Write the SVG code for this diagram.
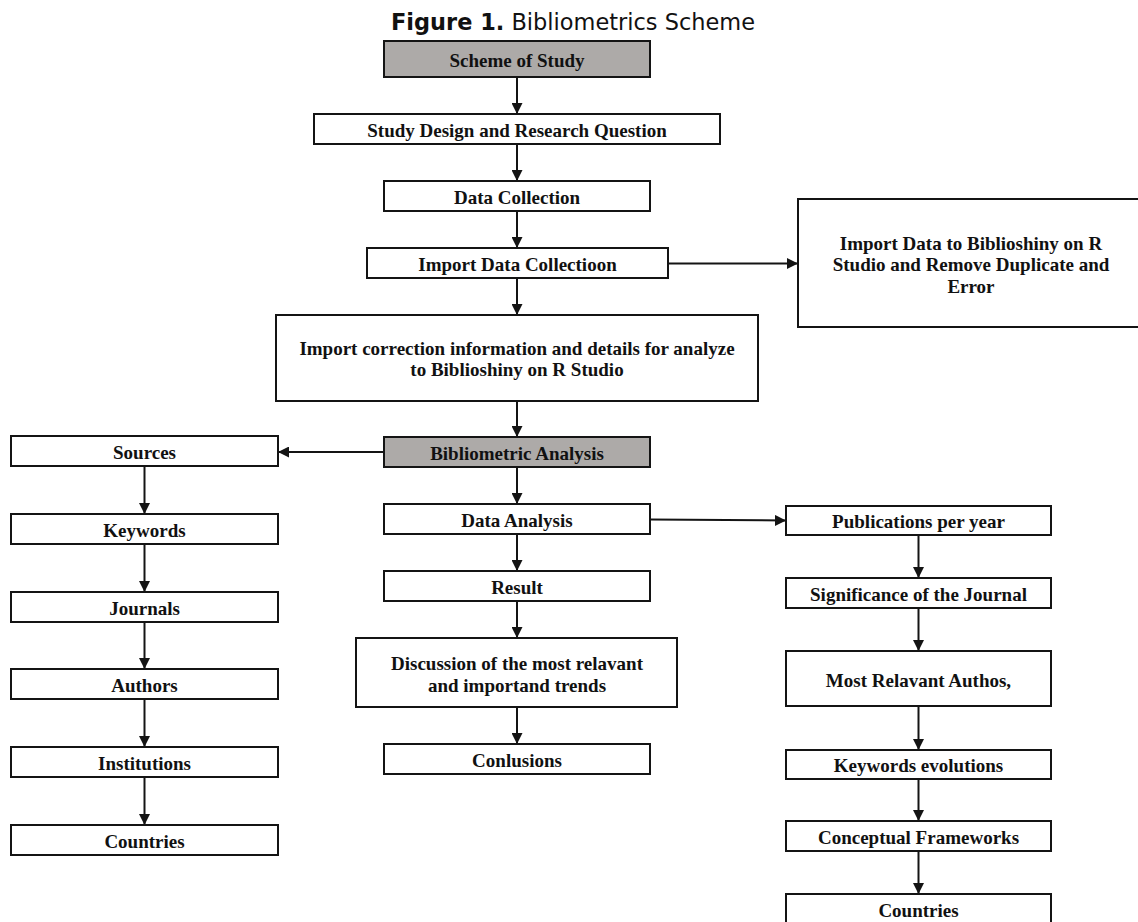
<svg xmlns="http://www.w3.org/2000/svg" width="1138" height="922" viewBox="0 0 1138 922">
<style>
.box{fill:#ffffff;stroke:#141414;stroke-width:2}
.gray{fill:#adaaa8;stroke:#141414;stroke-width:2}
.lbl{font-family:"Liberation Serif","Times New Roman",serif;font-weight:bold;font-size:19px;fill:#111;text-anchor:middle}
.title{font-family:"DejaVu Sans",Tahoma,sans-serif;font-size:23px;fill:#111}
.con{stroke:#141414;stroke-width:2;fill:none;marker-end:url(#arr)}
</style>
<defs>
<marker id="arr" markerUnits="userSpaceOnUse" markerWidth="12" markerHeight="11" refX="11" refY="5.5" orient="auto">
<path d="M0,0 L11,5.5 L0,11 z" fill="#141414"/>
</marker>
</defs>
<text class="title" x="391" y="30" textLength="364" lengthAdjust="spacingAndGlyphs"><tspan font-weight="bold">Figure 1.</tspan> Bibliometrics Scheme</text>
<g id="connectors">
<line class="con" x1="517" y1="77" x2="517" y2="114"/>
<line class="con" x1="517" y1="144" x2="517" y2="181"/>
<line class="con" x1="517" y1="211" x2="517" y2="248"/>
<line class="con" x1="517" y1="278" x2="517" y2="315"/>
<line class="con" x1="517" y1="401" x2="517" y2="437"/>
<line class="con" x1="517" y1="467" x2="517" y2="504"/>
<line class="con" x1="517" y1="534" x2="517" y2="571"/>
<line class="con" x1="517" y1="601" x2="517" y2="638"/>
<line class="con" x1="517" y1="707" x2="517" y2="744"/>
<line class="con" x1="668" y1="263.5" x2="798" y2="263.5"/>
<line class="con" x1="384" y1="452" x2="278" y2="452"/>
<line class="con" x1="650" y1="519.5" x2="786" y2="520.5"/>
<line class="con" x1="144.5" y1="466" x2="144.5" y2="514"/>
<line class="con" x1="144.5" y1="544" x2="144.5" y2="592"/>
<line class="con" x1="144.5" y1="622" x2="144.5" y2="669"/>
<line class="con" x1="144.5" y1="699" x2="144.5" y2="747"/>
<line class="con" x1="144.5" y1="777" x2="144.5" y2="825"/>
<line class="con" x1="918.5" y1="535" x2="918.5" y2="578"/>
<line class="con" x1="918.5" y1="608" x2="918.5" y2="651"/>
<line class="con" x1="918.5" y1="706" x2="918.5" y2="750"/>
<line class="con" x1="918.5" y1="779" x2="918.5" y2="821"/>
<line class="con" x1="918.5" y1="851" x2="918.5" y2="894"/>
</g>
<g id="scheme"><rect class="gray" x="384" y="41" width="266" height="36"/><text class="lbl" x="517" y="67">Scheme of Study</text></g>
<g id="design"><rect class="box" x="314" y="114" width="406" height="30"/><text class="lbl" x="517" y="136.5">Study Design and Research Question</text></g>
<g id="collection"><rect class="box" x="384" y="181" width="266" height="30"/><text class="lbl" x="517" y="203.5">Data Collection</text></g>
<g id="import"><rect class="box" x="367" y="248" width="301" height="30"/><text class="lbl" x="517.5" y="270.5">Import Data Collectioon</text></g>
<g id="importR"><rect class="box" x="798" y="199" width="348" height="128"/><text class="lbl" x="971" y="249.5">Import Data to Biblioshiny on R</text><text class="lbl" x="971" y="271">Studio and Remove Duplicate and</text><text class="lbl" x="971" y="293">Error</text></g>
<g id="correction"><rect class="box" x="276" y="315" width="482" height="86"/><text class="lbl" x="517" y="354.5">Import correction information and details for analyze</text><text class="lbl" x="517" y="376">to Biblioshiny on R Studio</text></g>
<g id="biblio"><rect class="gray" x="384" y="437" width="266" height="30"/><text class="lbl" x="517" y="459.5">Bibliometric Analysis</text></g>
<g id="dataAnalysis"><rect class="box" x="384" y="504" width="266" height="30"/><text class="lbl" x="517" y="526.5">Data Analysis</text></g>
<g id="result"><rect class="box" x="384" y="571" width="266" height="30"/><text class="lbl" x="517" y="593.5">Result</text></g>
<g id="discussion"><rect class="box" x="356" y="638" width="321" height="69"/><text class="lbl" x="517" y="669.5">Discussion of the most relavant</text><text class="lbl" x="517" y="691.5">and importand trends</text></g>
<g id="conclusions"><rect class="box" x="384" y="744" width="266" height="30"/><text class="lbl" x="517" y="766.5">Conlusions</text></g>
<g id="sources"><rect class="box" x="11" y="436" width="267" height="30"/><text class="lbl" x="144.5" y="458.5">Sources</text></g>
<g id="keywords"><rect class="box" x="11" y="514" width="267" height="30"/><text class="lbl" x="144.5" y="536.5">Keywords</text></g>
<g id="journals"><rect class="box" x="11" y="592" width="267" height="30"/><text class="lbl" x="144.5" y="614.5">Journals</text></g>
<g id="authors"><rect class="box" x="11" y="669" width="267" height="30"/><text class="lbl" x="144.5" y="691.5">Authors</text></g>
<g id="institutions"><rect class="box" x="11" y="747" width="267" height="30"/><text class="lbl" x="144.5" y="769.5">Institutions</text></g>
<g id="countriesL"><rect class="box" x="11" y="825" width="267" height="30"/><text class="lbl" x="144.5" y="847.5">Countries</text></g>
<g id="publications"><rect class="box" x="786" y="506" width="265" height="29"/><text class="lbl" x="918.5" y="528">Publications per year</text></g>
<g id="significance"><rect class="box" x="786" y="578" width="265" height="30"/><text class="lbl" x="918.5" y="600.5">Significance of the Journal</text></g>
<g id="relevant"><rect class="box" x="786" y="651" width="265" height="55"/><text class="lbl" x="918.5" y="686.5">Most Relavant Authos,</text></g>
<g id="kwEvol"><rect class="box" x="786" y="750" width="265" height="29"/><text class="lbl" x="918.5" y="772">Keywords evolutions</text></g>
<g id="conceptual"><rect class="box" x="786" y="821" width="265" height="30"/><text class="lbl" x="918.5" y="843.5">Conceptual Frameworks</text></g>
<g id="countriesR"><rect class="box" x="786" y="894" width="265" height="32"/><text class="lbl" x="918.5" y="916.5">Countries</text></g>
</svg>
